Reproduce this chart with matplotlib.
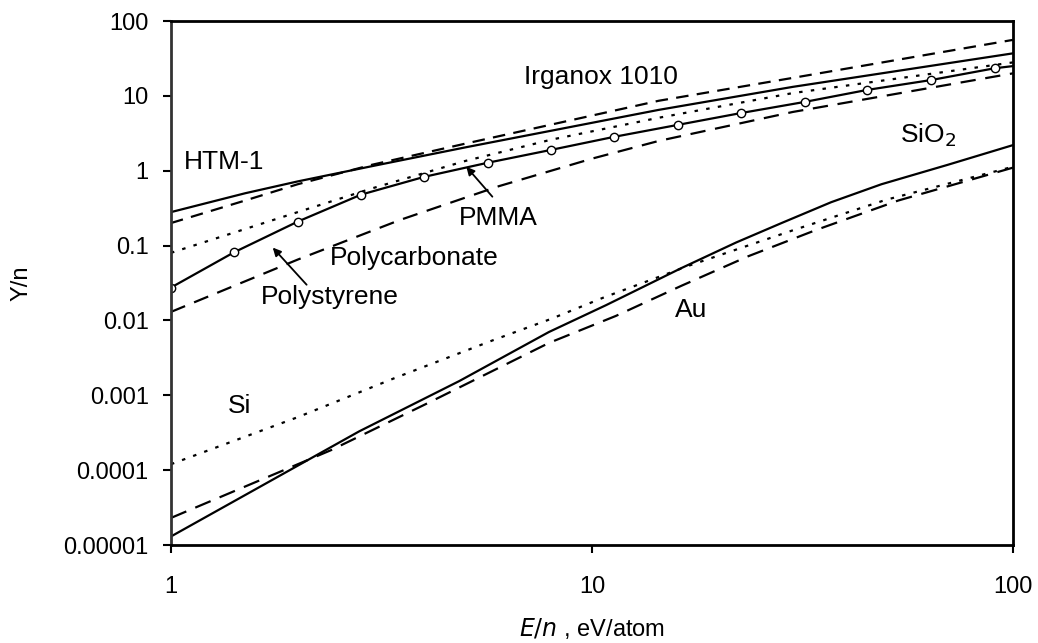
import matplotlib
matplotlib.use('Agg')
import matplotlib.pyplot as plt
from matplotlib.ticker import FixedLocator, FixedFormatter, NullLocator

plt.rcParams['font.family'] = ['Liberation Sans', 'DejaVu Sans']
plt.rcParams['lines.scale_dashes'] = False

irganox_e = [1, 1.5, 2, 3, 5, 14.4, 30, 100]
irganox_y = [0.2, 0.4, 0.66, 1.2, 2.3, 8.6, 17.4, 56]

htm_e = [1, 1.5, 2, 3, 5, 14.4, 30, 100]
htm_y = [0.28, 0.5, 0.72, 1.15, 2.05, 6.5, 13.2, 37]

pc_e = [1, 2, 3, 5, 8, 14.4, 30, 100]
pc_y = [0.08, 0.28, 0.58, 1.35, 2.6, 5.1, 10.9, 28]

pmma_e = [1, 1.41, 2, 2.83, 4, 5.66, 8, 11.3, 16, 22.6, 32, 45, 64, 90.5, 100]
pmma_y = [0.0275, 0.081, 0.209, 0.48, 0.83, 1.28, 1.9, 2.84, 4.1, 5.9,
          8.3, 12, 16.3, 23.4, 25]

ps_e = [1, 2, 3.5, 6, 10, 14.4, 30, 100]
ps_y = [0.013, 0.065, 0.22, 0.62, 1.45, 2.5, 6.1, 20]

sio2_e = [1, 2.8, 4.84, 7.9, 10.8, 16.3, 22, 28.2, 37, 48.7, 70, 100]
sio2_y = [1.3e-5, 3.3e-4, 1.55e-3, 7e-3, 0.016, 0.05, 0.11, 0.2, 0.38,
          0.66, 1.2, 2.2]

si_e = [1, 2, 3.4, 5.8, 8, 10.6, 17, 30, 50, 100]
si_y = [1.2e-4, 5.1e-4, 1.7e-3, 5.4e-3, 0.0105, 0.02, 0.054, 0.16, 0.41, 1.13]

au_e = [1, 2.4, 4.1, 7.9, 11.4, 16.3, 23.5, 33.9, 53.4, 100]
au_y = [2.3e-5, 1.85e-4, 8e-4, 5.0e-3, 0.0115, 0.029, 0.072, 0.16, 0.40, 1.1]

y_ticks = [1e-5, 1e-4, 1e-3, 1e-2, 1e-1, 1, 10, 100]
y_tick_labels = ['0.00001', '0.0001', '0.001', '0.01', '0.1', '1', '10', '100']
x_ticks = [1, 10, 100]
x_tick_labels = ['1', '10', '100']

fig = plt.figure(figsize=(10.38, 6.43), dpi=100)
ax = fig.add_axes([0.1647, 0.1524, 0.8112, 0.8149])

lw = 1.6
ax.plot(irganox_e, irganox_y, color='black', lw=lw, dashes=(9, 6))
ax.plot(htm_e, htm_y, color='black', lw=lw)
ax.plot(pc_e, pc_y, color='black', lw=lw, dashes=(2.5, 6))
ax.plot(pmma_e, pmma_y, color='black', lw=lw, marker='o', ms=6,
        mfc='white', mec='black', mew=1.0, markevery=list(range(len(pmma_e) - 1)))
ax.plot(ps_e, ps_y, color='black', lw=lw, dashes=(11, 7))

ax.plot(sio2_e, sio2_y, color='black', lw=lw)
ax.plot(si_e, si_y, color='black', lw=lw, dashes=(2.5, 6))
ax.plot(au_e, au_y, color='black', lw=lw, dashes=(12, 7))

ax.set_xscale('log')
ax.set_yscale('log')
ax.set_xlim(1, 100)
ax.set_ylim(1e-5, 100)

ax.yaxis.set_major_locator(FixedLocator(y_ticks))
ax.yaxis.set_major_formatter(FixedFormatter(y_tick_labels))
ax.yaxis.set_minor_locator(NullLocator())
ax.xaxis.set_major_locator(FixedLocator(x_ticks))
ax.xaxis.set_major_formatter(FixedFormatter(x_tick_labels))
ax.xaxis.set_minor_locator(NullLocator())
ax.tick_params(axis='both', direction='out', length=6, width=1.5,
               labelsize=17, colors='black')
ax.tick_params(axis='x', pad=16)
ax.tick_params(axis='y', pad=10)

for side in ['left', 'bottom', 'right', 'top']:
    ax.spines[side].set_linewidth(2)
ax.spines['left'].set_color('#333333')

ax.set_ylabel('Y/n', fontsize=17, labelpad=22)
ax.set_xlabel('$\\it{E/n}$ , eV/atom', fontsize=17, labelpad=13)

fs = 19
ax.text(1.335, 1.32, 'HTM-1', fontsize=fs, ha='center', va='center')
ax.text(10.5, 17.9, 'Irganox 1010', fontsize=fs, ha='center', va='center')
ax.text(62.9, 3.0, 'SiO$_2$', fontsize=fs, ha='center', va='center')
ax.text(1.457, 7.1e-4, 'Si', fontsize=fs, ha='center', va='center')
ax.text(17.2, 0.014, 'Au', fontsize=fs, ha='center', va='center')
ax.text(3.79, 0.069, 'Polycarbonate', fontsize=fs, ha='center', va='center')

arrow = dict(arrowstyle='-|>', color='black', lw=1.3, mutation_scale=12,
             shrinkA=0, shrinkB=0)
ax.annotate('', xy=(5.03, 1.13), xytext=(5.8, 0.45), arrowprops=arrow)
ax.text(5.99, 0.236, 'PMMA', fontsize=fs, ha='center', va='center')
ax.annotate('', xy=(1.745, 0.094), xytext=(2.1, 0.030), arrowprops=arrow)
ax.text(2.38, 0.0203, 'Polystyrene', fontsize=fs, ha='center', va='center')

fig.savefig('out.png', dpi=100)
